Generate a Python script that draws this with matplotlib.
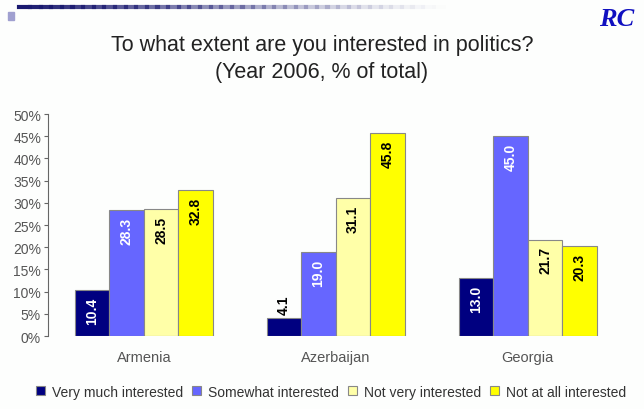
"""
Interest in politics, South Caucasus 2006 - grouped bar chart.
"""
import matplotlib
matplotlib.use("Agg")
import matplotlib.pyplot as plt
from matplotlib.lines import Line2D
from matplotlib.patches import Rectangle
import numpy as np

plt.rcParams["font.family"] = ["Liberation Sans", "DejaVu Sans"]

countries = ["Armenia", "Azerbaijan", "Georgia"]
series = ["Very much interested", "Somewhat interested",
          "Not very interested", "Not at all interested"]
very_much = [10.4, 4.1, 13.0]
somewhat = [28.3, 19.0, 45.0]
not_very = [28.5, 31.1, 21.7]
not_at_all = [32.8, 45.8, 20.3]
yticks = [0, 5, 10, 15, 20, 25, 30, 35, 40, 45, 50]

colors = ["#000080", "#6666ff", "#ffffa8", "#ffff00"]
text_colors = ["white", "white", "black", "black"]

fig = plt.figure(figsize=(6.44, 4.10), dpi=100)
fig.patch.set_facecolor("#fdfefd")

# Header decoration
for i in range(40):
    x0 = 0.03 + i * 0.0165
    fig.add_artist(Line2D([x0, x0 + 0.0166], [0.980, 0.980], color="#1a1a70",
                          lw=3, alpha=max(0.0, 1 - i / 40.0) ** 1.3))
fig.add_artist(Rectangle((0.012, 0.950), 0.010, 0.018, color="#a0a0d0"))
fig.text(0.930, 0.952, "RC", color="#1010c0", fontsize=19, fontweight="bold",
         fontstyle="italic", family="Liberation Serif", va="center", ha="left")

fig.text(0.5, 0.888, "To what extent are you interested in politics?",
         ha="center", va="center", fontsize=15.5, color="#222222")
fig.text(0.5, 0.823, "(Year 2006, % of total)",
         ha="center", va="center", fontsize=15.5, color="#222222")

ax = fig.add_axes([0.0745, 0.178, 0.894, 0.5415])
ax.set_facecolor("#fdfefd")

x = np.arange(len(countries))
width = 0.18
data = [very_much, somewhat, not_very, not_at_all]
for i, vals in enumerate(data):
    pos = x + (i - 1.5) * width
    ax.bar(pos, vals, width, color=colors[i], edgecolor="#888888",
           linewidth=0.8, label=series[i])
    for px, v in zip(pos, vals):
        if v < 6:
            ax.text(px, v + 0.8, f"{v:.1f}", rotation=90, ha="center",
                    va="bottom", fontsize=10, fontweight="bold", color="black")
        else:
            ax.text(px, v - 1.5, f"{v:.1f}", rotation=90, ha="center",
                    va="top", fontsize=10, fontweight="bold", color=text_colors[i])

ax.set_xlim(-0.5, 2.5)
ax.set_ylim(0, 50)
ax.set_yticks(yticks)
ax.set_yticklabels([f"{t}%" for t in yticks], fontsize=10, color="#555555")
ax.set_xticks(x)
ax.set_xticklabels(countries, fontsize=10.5, color="#555555")
ax.tick_params(axis="x", length=0, pad=10)
ax.tick_params(axis="y", length=3, color="#666666", direction="out", pad=2)
for s in ["top", "right", "bottom"]:
    ax.spines[s].set_visible(False)
ax.spines["left"].set_color("#666666")

handles, labels = ax.get_legend_handles_labels()
fig.legend(handles, labels, loc="center", bbox_to_anchor=(0.514, 0.042),
           ncol=4, frameon=False, fontsize=10, handlelength=0.6,
           handleheight=0.6, handletextpad=0.5, columnspacing=0.7,
           labelcolor="#333333", borderaxespad=0, borderpad=0)

fig.savefig("out.png", dpi=100, facecolor=fig.get_facecolor())
